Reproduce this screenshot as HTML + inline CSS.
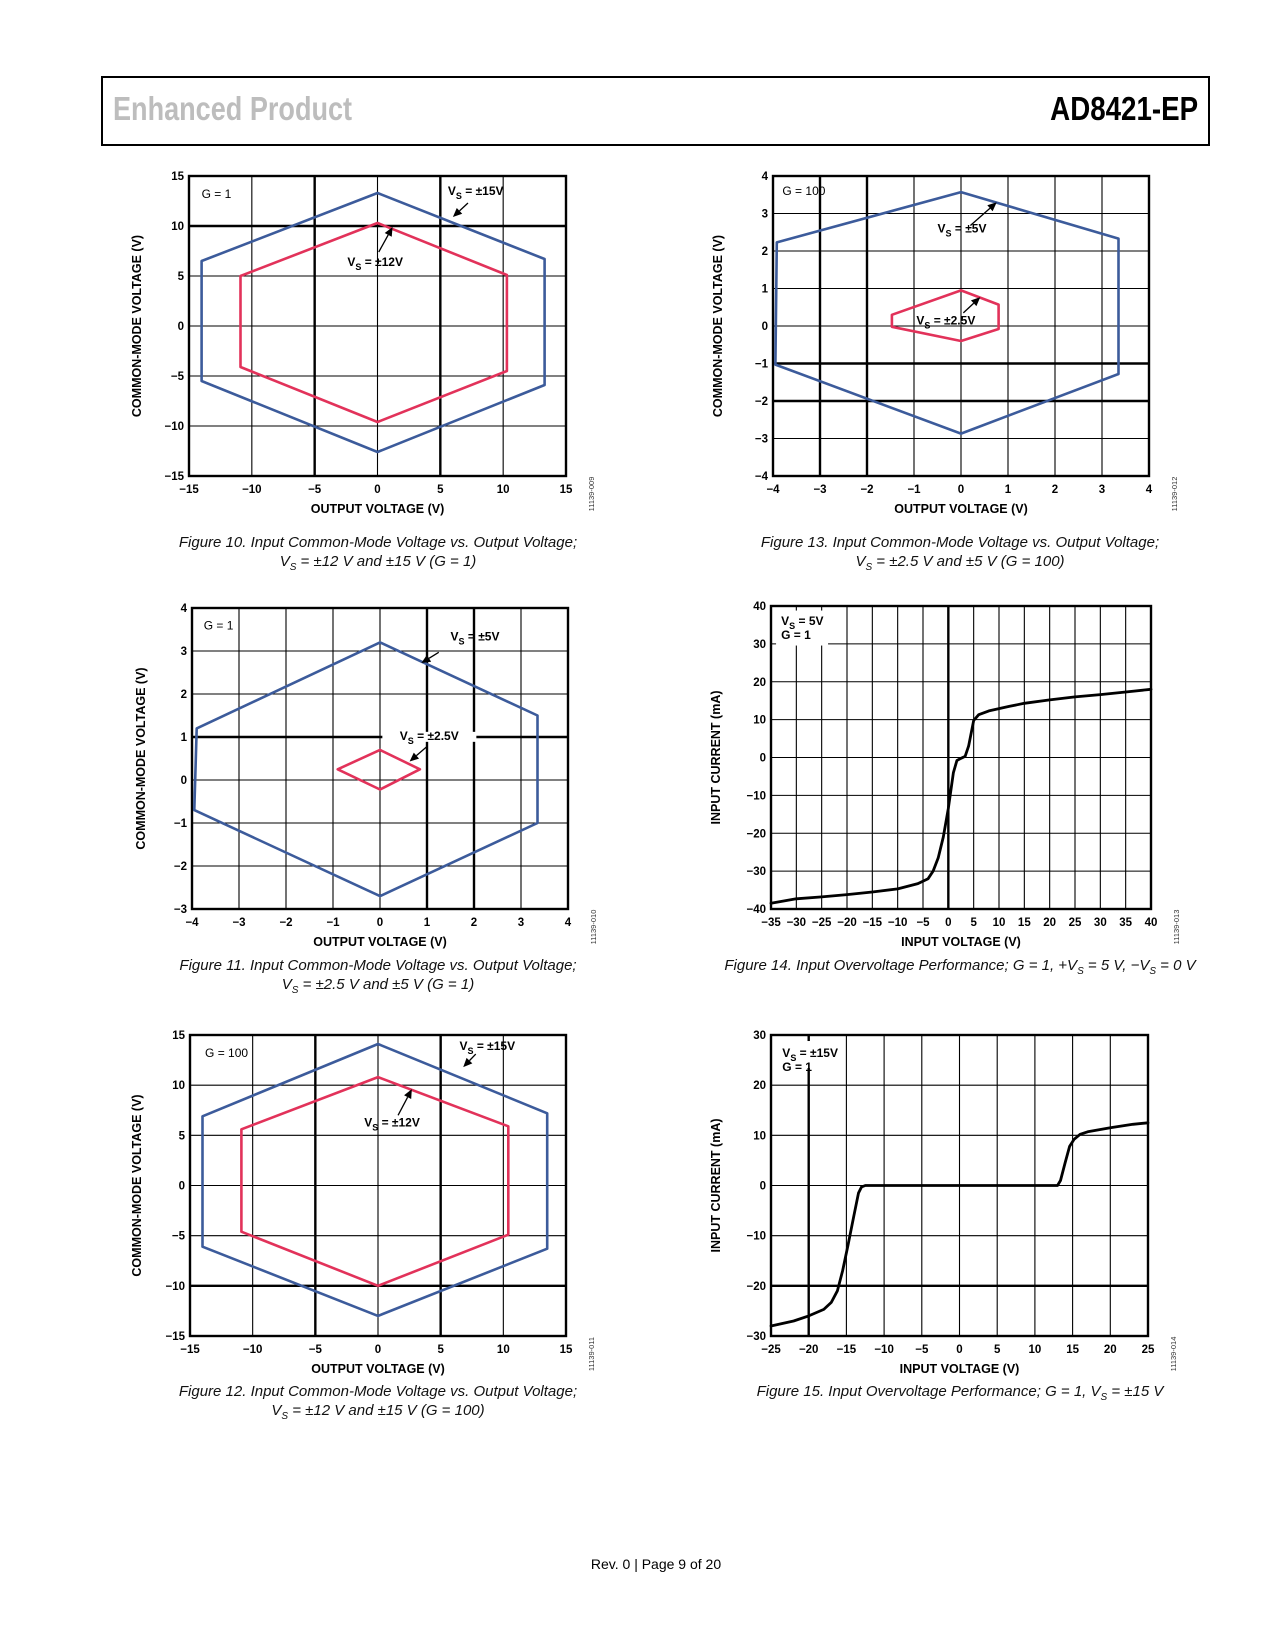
<!DOCTYPE html>
<html><head><meta charset="utf-8">
<style>
html,body{margin:0;padding:0;background:#fff;}
body{width:1275px;height:1650px;position:relative;overflow:hidden;font-family:"Liberation Sans",sans-serif;}
.hdr{position:absolute;left:101px;top:76px;width:1105px;height:66px;border:2px solid #000;}
.hl{position:absolute;left:10px;top:12px;font-family:"Liberation Sans Narrow","Liberation Sans",sans-serif;font-weight:bold;font-size:33px;color:#bdbdbd;transform:scaleX(0.82);transform-origin:left center;white-space:nowrap;}
.hr{position:absolute;right:10px;top:12px;font-family:"Liberation Sans Narrow","Liberation Sans",sans-serif;font-weight:bold;font-size:33px;color:#000;transform:scaleX(0.84);transform-origin:right center;white-space:nowrap;}
.cap{position:absolute;font-style:italic;font-size:15px;text-align:center;line-height:19px;width:520px;color:#111;}
.foot{position:absolute;left:556px;top:1556px;width:200px;text-align:center;font-size:14px;}
svg{position:absolute;left:0;top:0;}
</style></head>
<body>
<div class="hdr">
  <div class="hl">Enhanced Product</div>
  <div class="hr">AD8421-EP</div>
</div>
<div class="cap" style="left:118px;top:533px;">Figure 10. Input Common-Mode Voltage vs. Output Voltage;<br>V<sub style="font-size:10px">S</sub> = ±12 V and ±15 V (G = 1)</div>
<div class="cap" style="left:118px;top:956px;">Figure 11. Input Common-Mode Voltage vs. Output Voltage;<br>V<sub style="font-size:10px">S</sub> = ±2.5 V and ±5 V (G = 1)</div>
<div class="cap" style="left:118px;top:1382px;">Figure 12. Input Common-Mode Voltage vs. Output Voltage;<br>V<sub style="font-size:10px">S</sub> = ±12 V and ±15 V (G = 100)</div>
<div class="cap" style="left:700px;top:533px;">Figure 13. Input Common-Mode Voltage vs. Output Voltage;<br>V<sub style="font-size:10px">S</sub> = ±2.5 V and ±5 V (G = 100)</div>
<div class="cap" style="left:690px;top:956px;width:540px;">Figure 14. Input Overvoltage Performance; G = 1, +V<sub style="font-size:10px">S</sub> = 5 V, −V<sub style="font-size:10px">S</sub> = 0 V</div>
<div class="cap" style="left:700px;top:1382px;">Figure 15. Input Overvoltage Performance; G = 1, V<sub style="font-size:10px">S</sub> = ±15 V</div>
<div class="foot">Rev. 0 | Page 9 of 20</div>

<svg id="pg" width="1275" height="1650" xmlns="http://www.w3.org/2000/svg"></svg>

<script>
// ---- Chart data (top-level arrays) ----
var c10XTicks = [-15,-10,-5,0,5,10,15];
var c10YTicks = [-15,-10,-5,0,5,10,15];
var c10Blue = [[-14,6.5],[0,13.3],[13.3,6.7],[13.3,-5.9],[0,-12.6],[-14,-5.5]];
var c10Red  = [[-10.9,5],[0,10.3],[10.3,5.1],[10.3,-4.5],[0,-9.6],[-10.9,-4.1]];
var c10ThickX = [-5,5];
var c10ThickY = [10];

var c11XTicks = [-4,-3,-2,-1,0,1,2,3,4];
var c11YTicks = [-3,-2,-1,0,1,2,3,4];
var c11Blue = [[-3.9,1.2],[0,3.2],[3.35,1.5],[3.35,-1],[0,-2.7],[-3.95,-0.7]];
var c11Red  = [[-0.9,0.25],[0,0.7],[0.85,0.25],[0,-0.22]];
var c11ThickX = [1,2];
var c11ThickY = [1];

var c12XTicks = [-15,-10,-5,0,5,10,15];
var c12YTicks = [-15,-10,-5,0,5,10,15];
var c12Blue = [[-14,6.9],[0,14.1],[13.5,7.2],[13.5,-6.3],[0,-13],[-14,-6.1]];
var c12Red  = [[-10.9,5.6],[0,10.8],[10.4,5.9],[10.4,-4.9],[0,-10],[-10.9,-4.6]];
var c12ThickX = [-5,5];
var c12ThickY = [-10];

var c13XTicks = [-4,-3,-2,-1,0,1,2,3,4];
var c13YTicks = [-4,-3,-2,-1,0,1,2,3,4];
var c13Blue = [[-3.92,2.23],[0,3.57],[3.35,2.33],[3.35,-1.28],[0,-2.87],[-3.95,-1.03]];
var c13Red  = [[-1.47,0.3],[0,0.95],[0.8,0.57],[0.8,-0.08],[0,-0.4],[-1.47,-0.02]];
var c13ThickX = [-3,-2];
var c13ThickY = [-1,-2];

var c14XTicks = [-35,-30,-25,-20,-15,-10,-5,0,5,10,15,20,25,30,35,40];
var c14YTicks = [-40,-30,-20,-10,0,10,20,30,40];
var c14VoltX = [-35,-30,-25,-20,-15,-10,-6,-4,-3,-2,-1,0,1,1.7,2.5,3.3,4,5,6,8,12,15,20,25,30,35,40];
var c14CurrY = [-38.5,-37.3,-36.8,-36.2,-35.5,-34.7,-33.3,-32,-30,-26.5,-21,-13.5,-4,-0.8,-0.2,0.3,3,9.8,11.3,12.3,13.5,14.3,15.2,16,16.6,17.3,18];
var c14ThickX = [0];
var c14ThickY = [];

var c15XTicks = [-25,-20,-15,-10,-5,0,5,10,15,20,25];
var c15YTicks = [-30,-20,-10,0,10,20,30];
var c15VoltX = [-25,-22,-20,-18,-17,-16.2,-15.5,-14.8,-14,-13.4,-13,-12.5,-12,0,12,13,13.4,14,14.6,15.2,16,17,20,23,25];
var c15CurrY = [-28,-27,-26,-24.7,-23.3,-21,-17,-12,-6,-1.5,-0.3,0,0,0,0,0,1,4.5,7.8,9.2,10.2,10.7,11.5,12.2,12.5];
var c15ThickX = [-20];
var c15ThickY = [-20];

var NS = 'http://www.w3.org/2000/svg';
var svg = document.getElementById('pg');
function mk(tag, attrs, parent){
  var e = document.createElementNS(NS, tag);
  for (var k in attrs) e.setAttribute(k, attrs[k]);
  (parent||svg).appendChild(e); return e;
}
function fmt(v){ return v<0 ? '\u2212'+Math.abs(v) : ''+v; }

function chart(o){
  var g = mk('g',{});
  
  
  var xs = o.xt, ys = o.yt;
  var x0 = xs[0], x1 = xs[xs.length-1], y0 = ys[0], y1 = ys[ys.length-1];
  function X(v){ return o.L + (v-x0)/(x1-x0)*(o.R-o.L); }
  function Y(v){ return o.B - (v-y0)/(y1-y0)*(o.B-o.T); }
  xs.forEach(function(v){
    var th = o.thx.indexOf(v)>=0;
    var l = mk('line',{x1:X(v),x2:X(v),y1:o.T,y2:o.B,stroke:'#000','stroke-width':th?2.4:1.1},g);
    
    
    var t = mk('text',{x:X(v),y:o.B+17,'text-anchor':'middle','font-size':11.5,'font-weight':'bold','font-family':'Liberation Sans, sans-serif'},g);
    t.textContent = fmt(v);
    
    
  });
  ys.forEach(function(v){
    var th = o.thy.indexOf(v)>=0;
    var l = mk('line',{x1:o.L,x2:o.R,y1:Y(v),y2:Y(v),stroke:'#000','stroke-width':th?2.4:1.1},g);
    
    
    var t = mk('text',{x:o.L-5,y:Y(v)+4,'text-anchor':'end','font-size':11.5,'font-weight':'bold','font-family':'Liberation Sans, sans-serif'},g);
    t.textContent = fmt(v);
    
    
  });
  (o.boxes||[]).forEach(function(b){
    var r = mk('rect',{x:X(b[0]),y:Y(b[1]),width:b[2],height:b[3],fill:'#fff'},g);
    
    
  });
  var fr = mk('rect',{x:o.L,y:o.T,width:o.R-o.L,height:o.B-o.T,fill:'none',stroke:'#000','stroke-width':2.4},g);
  
  
  (o.series||[]).forEach(function(s){
    var pts = s.pts.map(function(p){ return X(p[0]).toFixed(1)+','+Y(p[1]).toFixed(1); }).join(' ');
    var e = mk(s.closed?'polygon':'polyline',{points:pts,fill:'none',stroke:s.color,'stroke-width':s.w||2.6,'stroke-linejoin':'round','stroke-linecap':'round'},g);
    
    
  });
  (o.arrows||[]).forEach(function(a){
    var ax=X(a[0]),ay=Y(a[1]),bx=X(a[2]),by=Y(a[3]);
    var ang=Math.atan2(by-ay,bx-ax), hl=9, hw=4;
    var ex=bx-hl*Math.cos(ang), ey=by-hl*Math.sin(ang);
    var l = mk('line',{x1:ax,y1:ay,x2:ex,y2:ey,stroke:'#000','stroke-width':1.3},g);
    
    
    var p = mk('polygon',{points:bx+','+by+' '+(ex-hw*Math.sin(ang))+','+(ey+hw*Math.cos(ang))+' '+(ex+hw*Math.sin(ang))+','+(ey-hw*Math.cos(ang)),fill:'#000'},g);
    
    
  });
  (o.labels||[]).forEach(function(lb){
    var t = mk('text',{x:X(lb[0]),y:Y(lb[1]),'font-size':12,'font-weight':lb[4]?'bold':'normal','font-family':'Liberation Sans, sans-serif'},g);
    
    
    if (lb[2].indexOf('VS')===0){
      var a = mk('tspan',{},t); a.textContent='V';
      var b = mk('tspan',{dy:4,'font-size':9},t); b.textContent='S';
      var c = mk('tspan',{dy:-4},t); c.textContent=lb[2].slice(2);
    } else t.textContent = lb[2];
  });
  var xt = mk('text',{x:(o.L+o.R)/2,y:o.B+37,'text-anchor':'middle','font-size':12.5,'font-weight':'bold','font-family':'Liberation Sans, sans-serif'},g);
  xt.textContent = o.xtitle;
  
  
  var yx = o.ytx, yy=(o.T+o.B)/2;
  var yt = mk('text',{x:yx,y:yy,'text-anchor':'middle','font-size':12.5,'font-weight':'bold','font-family':'Liberation Sans, sans-serif',transform:'rotate(-90 '+yx+' '+yy+')'},g);
  yt.textContent = o.ytitle;
  
  
  var ix = o.R+28, iy = o.B+18;
  var it = mk('text',{x:ix,y:iy,'text-anchor':'middle','font-size':7.5,fill:'#333','font-family':'Liberation Sans, sans-serif',transform:'rotate(-90 '+ix+' '+iy+')'},g);
  it.textContent = o.id;
  
  
}
function zipXY(a,b){ return a.map(function(v,i){ return [v,b[i]]; }); }
var BLUE='#3c5b9b', RED='#e2325a';

chart({name:'chart-figure-10',L:189,R:566,T:176,B:476,xt:c10XTicks,yt:c10YTicks,thx:c10ThickX,thy:c10ThickY,
  series:[{pts:c10Blue,closed:true,color:BLUE,name:'series-vs-15v'},{pts:c10Red,closed:true,color:RED,name:'series-vs-12v'}],
  arrows:[[7.2,12.3,6,10.9],[0.1,7.4,1.2,9.9]],
  labels:[[-14,12.8,'G = 1','gain-label',0],[5.6,13.1,'VS = ±15V','label-vs-15v',1],[-2.4,6.0,'VS = ±12V','label-vs-12v',1]],
  xtitle:'OUTPUT VOLTAGE (V)',ytitle:'COMMON-MODE VOLTAGE (V)',ytx:141,id:'11139-009'});

chart({name:'chart-figure-11',L:192,R:568,T:608,B:909,xt:c11XTicks,yt:c11YTicks,thx:c11ThickX,thy:c11ThickY,
  boxes:[[0.05,1.12,94,10]],
  series:[{pts:c11Blue,closed:true,color:BLUE,name:'series-vs-5v'},{pts:c11Red,closed:true,color:RED,name:'series-vs-2p5v'}],
  arrows:[[1.25,2.97,0.88,2.72],[1,0.78,0.63,0.43]],
  labels:[[-3.75,3.5,'G = 1','gain-label',0],[1.5,3.25,'VS = ±5V','label-vs-5v',1],[0.42,0.93,'VS = ±2.5V','label-vs-2p5v',1]],
  xtitle:'OUTPUT VOLTAGE (V)',ytitle:'COMMON-MODE VOLTAGE (V)',ytx:145,id:'11139-010'});

chart({name:'chart-figure-12',L:190,R:566,T:1035,B:1336,xt:c12XTicks,yt:c12YTicks,thx:c12ThickX,thy:c12ThickY,
  series:[{pts:c12Blue,closed:true,color:BLUE,name:'series-vs-15v'},{pts:c12Red,closed:true,color:RED,name:'series-vs-12v'}],
  arrows:[[7.8,13.1,6.8,11.8],[1.6,7.0,2.7,9.6]],
  labels:[[-13.8,12.8,'G = 100','gain-label',0],[6.5,13.5,'VS = ±15V','label-vs-15v',1],[-1.1,5.9,'VS = ±12V','label-vs-12v',1]],
  xtitle:'OUTPUT VOLTAGE (V)',ytitle:'COMMON-MODE VOLTAGE (V)',ytx:141,id:'11139-011'});

chart({name:'chart-figure-13',L:773,R:1149,T:176,B:476,xt:c13XTicks,yt:c13YTicks,thx:c13ThickX,thy:c13ThickY,
  series:[{pts:c13Blue,closed:true,color:BLUE,name:'series-vs-5v'},{pts:c13Red,closed:true,color:RED,name:'series-vs-2p5v'}],
  arrows:[[0.2,2.68,0.76,3.3],[0.05,0.35,0.41,0.77]],
  labels:[[-3.8,3.5,'G = 100','gain-label',0],[-0.5,2.5,'VS = ±5V','label-vs-5v',1],[-0.95,0.04,'VS = ±2.5V','label-vs-2p5v',1]],
  xtitle:'OUTPUT VOLTAGE (V)',ytitle:'COMMON-MODE VOLTAGE (V)',ytx:722,id:'11139-012'});

chart({name:'chart-figure-14',L:771,R:1151,T:606,B:909,xt:c14XTicks,yt:c14YTicks,thx:c14ThickX,thy:c14ThickY,
  boxes:[[-34,38.8,52,35]],
  series:[{pts:zipXY(c14VoltX,c14CurrY),closed:false,color:'#000',w:2.8,name:'series-input-current'}],
  labels:[[-33,35,'VS = 5V','label-vs-5v',1],[-33,31.3,'G = 1','gain-label',1]],
  xtitle:'INPUT VOLTAGE (V)',ytitle:'INPUT CURRENT (mA)',ytx:720,id:'11139-013'});

chart({name:'chart-figure-15',L:771,R:1148,T:1035,B:1336,xt:c15XTicks,yt:c15YTicks,thx:c15ThickX,thy:c15ThickY,
  boxes:[[-24,28.8,60,27]],
  series:[{pts:zipXY(c15VoltX,c15CurrY),closed:false,color:'#000',w:2.8,name:'series-input-current'}],
  labels:[[-23.5,25.6,'VS = ±15V','label-vs-15v',1],[-23.5,22.8,'G = 1','gain-label',1]],
  xtitle:'INPUT VOLTAGE (V)',ytitle:'INPUT CURRENT (mA)',ytx:720,id:'11139-014'});
</script>
</body></html>
